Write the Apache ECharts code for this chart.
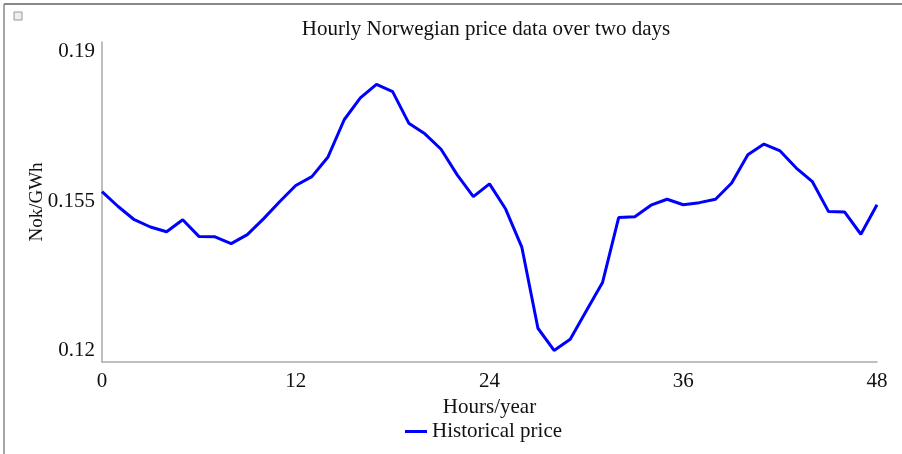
<!DOCTYPE html>
<html>
<head>
<meta charset="utf-8">
<script src="https://cdn.jsdelivr.net/npm/echarts@6/dist/echarts.min.js"></script>
<style>
html,body{margin:0;padding:0;background:#fff;}
#chart{width:902px;height:454px;}
</style>
</head>
<body>
<div id="chart"></div>
<script>
var hours = [];
for (var i = 0; i <= 48; i++) hours.push(i);
var price = [0.1573,0.1538,0.1507,0.1490,0.1479,0.1507,0.1468,0.1467,0.1451,0.1472,
    0.1509,0.1549,0.1587,0.1608,0.1654,0.1741,0.1792,0.1824,0.1807,0.1733,
    0.1708,0.1672,0.1612,0.1561,0.1591,0.1532,0.1443,0.1253,0.1201,0.1227,
    0.1294,0.1360,0.1512,0.1514,0.1541,0.1555,0.1542,0.1547,0.1555,0.1593,
    0.1659,0.1684,0.1668,0.1628,0.1596,0.1526,0.1525,0.1473,0.1542];
var xTicks = [0, 12, 24, 36, 48];
var yTicks = [0.12, 0.155, 0.19];

var font = '"Liberation Serif", "DejaVu Serif", serif';
var chart = echarts.init(document.getElementById("chart"));

var pts = [];
for (var i = 0; i < hours.length; i++) pts.push([hours[i], price[i]]);

chart.setOption({
    animation: false,
    textStyle: { fontFamily: font },
    title: {
        text: 'Hourly Norwegian price data over two days',
        left: 481, top: 14, textAlign: 'center',
        textStyle: { fontFamily: font, fontSize: 21, fontWeight: 'normal', color: '#111' }
    },
    graphic: [
        { type: 'line', shape: { x1: 4, y1: 4, x2: 902, y2: 4 }, style: { stroke: '#888', lineWidth: 2 } },
        { type: 'line', shape: { x1: 4, y1: 4, x2: 4, y2: 454 }, style: { stroke: '#888', lineWidth: 1.5 } },
        { type: 'rect', shape: { x: 14, y: 12, width: 8, height: 8 }, style: { fill: '#eee', stroke: '#999', lineWidth: 1 } }
    ],
    legend: {
        bottom: 7, left: 400,
        itemWidth: 22, itemHeight: 3, itemGap: 3,
        icon: 'rect',
        data: ['Historical price'],
        textStyle: { fontFamily: font, fontSize: 21, color: '#111' }
    },
    grid: { left: 102, right: 25, top: 42, bottom: 92 },
    xAxis: {
        type: 'value', min: 0, max: 48, interval: 12,
        name: 'Hours/year', nameLocation: 'middle', nameGap: 32,
        nameTextStyle: { fontFamily: font, fontSize: 21, color: '#111' },
        axisLine: { lineStyle: { color: '#aaa', width: 1.5 } },
        axisTick: { show: false },
        splitLine: { show: false },
        axisLabel: { fontFamily: font, fontSize: 21, color: '#111', margin: 9,
            customValues: xTicks }
    },
    yAxis: {
        type: 'value', min: 0.1174, max: 0.1923,
        name: 'Nok/GWh', nameLocation: 'middle', nameGap: 55, nameRotate: 90,
        nameMoveOverlap: false,
        nameTextStyle: { fontFamily: font, fontSize: 19, color: '#111' },
        axisLine: { show: true, lineStyle: { color: '#aaa', width: 1.5 } },
        axisTick: { show: false },
        splitLine: { show: false },
        axisLabel: { fontFamily: font, fontSize: 21, color: '#111', margin: 7,
            customValues: yTicks,
            formatter: function (v) { return String(+v.toFixed(3)); } }
    },
    series: [{
        name: 'Historical price',
        type: 'line',
        data: pts,
        showSymbol: false,
        lineStyle: { color: '#0000ff', width: 3 },
        itemStyle: { color: '#0000ff' }
    }]
});
</script>
</body>
</html>
